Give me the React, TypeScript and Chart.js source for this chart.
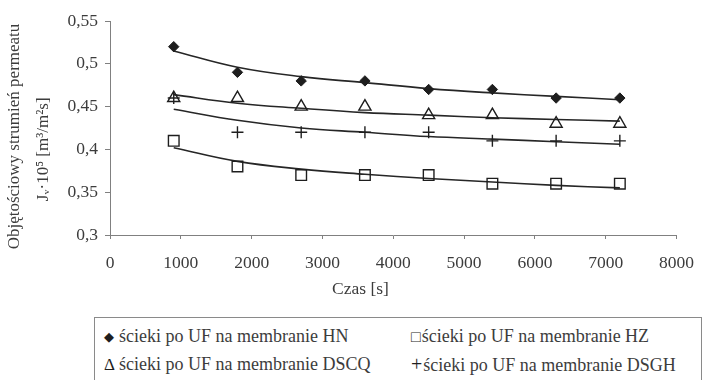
import React, { useEffect, useRef } from "react";
import { Chart, registerables } from "chart.js";

Chart.register(...registerables);

const timeS = [900, 1800, 2700, 3600, 4500, 5400, 6300, 7200];

const hnValues = [0.52, 0.49, 0.48, 0.48, 0.47, 0.47, 0.46, 0.46];
const hzValues = [0.41, 0.38, 0.37, 0.37, 0.37, 0.36, 0.36, 0.36];
const dscqValues = [0.46, 0.46, 0.45, 0.45, 0.44, 0.44, 0.43, 0.43];
const dsghValues = [0.46, 0.42, 0.42, 0.42, 0.42, 0.41, 0.41, 0.41];

// trend lines
const hnTrend = [0.515, 0.496, 0.485, 0.478, 0.471, 0.466, 0.462, 0.458];
const hzTrend = [0.402, 0.386, 0.377, 0.371, 0.366, 0.362, 0.358, 0.355];
const dscqTrend = [0.464, 0.454, 0.448, 0.443, 0.44, 0.437, 0.435, 0.433];
const dsghTrend = [0.447, 0.434, 0.425, 0.42, 0.415, 0.412, 0.409, 0.406];

const legendLabels = [
  "ścieki po UF na membranie HN",
  "ścieki po UF na membranie HZ",
  "ścieki po UF na membranie DSCQ",
  "ścieki po UF na membranie DSGH",
];
const legendMarks = ["◆", "□", "Δ", "+"];

const xTitle = "Czas [s]";
const yTitle = ["Objętościowy strumień permeatu", "Jᵥ·10⁵ [m³/m²s]"];

const FONT = "'Liberation Serif', 'Times New Roman', serif";
const TEXT = "#3c3c3c";
const MARK = "#1e1e1e";
const AXIS = "#808080";

const pts = (vals: number[]) => timeS.map((x, i) => ({ x, y: vals[i] }));

export default function App() {
  const ref = useRef<HTMLCanvasElement | null>(null);

  useEffect(() => {
    if (!ref.current) return;
    const markerSet = (label: string, vals: number[], style: any, radius: number, fill: string, bw: number) => ({
      label,
      data: pts(vals),
      showLine: false,
      pointStyle: style,
      pointRadius: radius,
      pointBackgroundColor: fill,
      pointBorderColor: MARK,
      pointBorderWidth: bw,
      order: 1,
    });
    const trendSet = (vals: number[]) => ({
      label: "trend",
      data: pts(vals),
      showLine: true,
      borderColor: "#262626",
      borderWidth: 1.6,
      pointRadius: 0,
      tension: 0.4,
      fill: false,
      order: 2,
    });
    const chart = new Chart(ref.current, {
      type: "scatter",
      data: {
        datasets: [
          markerSet(legendLabels[0], hnValues, "rectRot", 5.2, MARK, 1),
          markerSet(legendLabels[1], hzValues, "rect", 7.5, "rgba(255,255,255,0)", 1.4),
          markerSet(legendLabels[2], dscqValues, "triangle", 7, "rgba(255,255,255,0)", 1.4),
          markerSet(legendLabels[3], dsghValues, "cross", 6, MARK, 1.4),
          trendSet(hnTrend),
          trendSet(hzTrend),
          trendSet(dscqTrend),
          trendSet(dsghTrend),
        ] as any,
      },
      options: {
        animation: false,
        responsive: false,
        maintainAspectRatio: false,
        layout: { padding: { top: 21, right: 20, left: 0, bottom: 0 } },
        plugins: { legend: { display: false }, tooltip: { enabled: false } },
        scales: {
          x: {
            type: "linear",
            min: 0,
            max: 8000,
            afterFit: (s: any) => {
              s.height = 65;
            },
            ticks: {
              stepSize: 1000,
              callback: (v: any) => String(v),
              color: TEXT,
              font: { family: FONT, size: 17.5 },
              padding: 14,
              maxRotation: 0,
            },
            grid: { drawOnChartArea: false, tickLength: 4, color: AXIS },
            border: { color: AXIS, width: 1 },
            title: {
              display: true,
              text: xTitle + "               ",
              color: TEXT,
              font: { family: FONT, size: 17.5, lineHeight: 1.2 },
              padding: { top: 0, bottom: 0 },
            },
          },
          y: {
            min: 0.3,
            max: 0.55,
            afterFit: (s: any) => {
              s.width = 110;
            },
            ticks: {
              stepSize: 0.05,
              callback: (v: any) => String(Math.round(Number(v) * 100) / 100).replace(".", ","),
              color: TEXT,
              font: { family: FONT, size: 17.5 },
              padding: 7,
            },
            grid: { drawOnChartArea: false, tickLength: 5, color: AXIS },
            border: { color: AXIS, width: 1 },
            title: {
              display: true,
              text: [yTitle[0] + "    ", yTitle[1] + "          "],
              color: TEXT,
              font: { family: FONT, size: 17, lineHeight: 1.65 },
              padding: { top: 1, bottom: 0 },
            },
          },
        },
      },
    });
    return () => chart.destroy();
  }, []);

  const cell: React.CSSProperties = {
    position: "absolute",
    whiteSpace: "nowrap",
    fontFamily: FONT,
    fontSize: 18,
    color: TEXT,
    lineHeight: "20px",
  };

  return (
    <div style={{ position: "absolute", left: 0, top: 0, width: 708, height: 380, background: "#fff", overflow: "hidden" }}>
      <canvas ref={ref} width={708} height={300} style={{ position: "absolute", left: 0, top: 0, width: 708, height: 300 }} />
      <div
        style={{
          position: "absolute",
          left: 94,
          top: 317,
          width: 608,
          height: 80,
          border: "1px solid #8a8a8a",
          boxSizing: "border-box",
        }}
      >
        <div style={{ ...cell, left: 9, top: 8 }}>
          <span style={{ color: MARK, fontSize: 13, marginRight: 5, position: "relative", top: -1 }}>{legendMarks[0]}</span>
          {legendLabels[0]}
        </div>
        <div style={{ ...cell, left: 316, top: 8 }}>
          <span style={{ color: MARK, fontSize: 16, marginRight: 1 }}>{legendMarks[1]}</span>
          {legendLabels[1]}
        </div>
        <div style={{ ...cell, left: 9, top: 36 }}>
          <span style={{ color: MARK, fontSize: 17, marginRight: 4 }}>{legendMarks[2]}</span>
          {legendLabels[2]}
        </div>
        <div style={{ ...cell, left: 316, top: 36 }}>
          <span style={{ color: MARK, fontSize: 20, marginRight: 1 }}>{legendMarks[3]}</span>
          {legendLabels[3]}
        </div>
      </div>
    </div>
  );
}
